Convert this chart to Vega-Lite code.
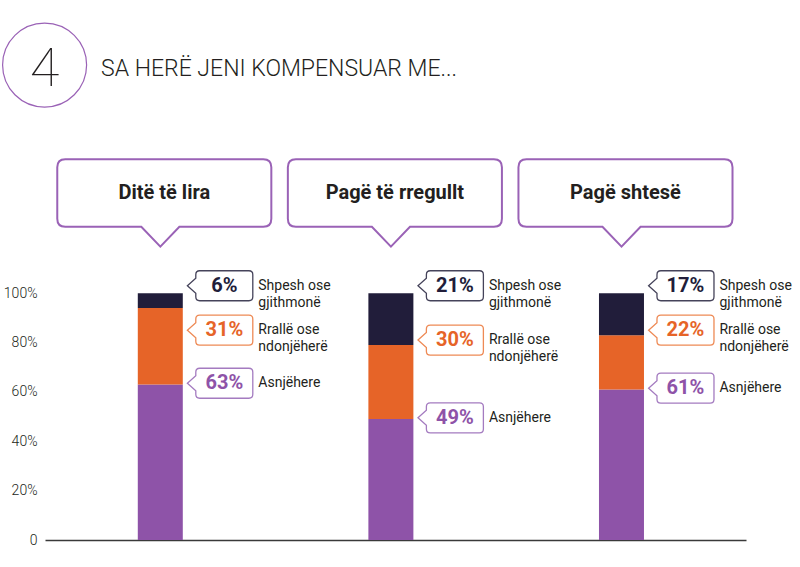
{
  "$schema": "https://vega.github.io/schema/vega-lite/v6.json",
  "width": 701,
  "height": 390,
  "autosize": {"type": "none"},
  "padding": {"left": 45, "top": 150, "right": 54, "bottom": 27},
  "background": "white",
  "config": {"view": {"stroke": null}, "font": "Roboto"},
  "datasets": {
    "resp": [
      {"cat": "Ditë të lira", "series": "Asnjëhere", "label": "Asnjëhere", "pct": 0.63, "order": 1},
      {"cat": "Ditë të lira", "series": "Rrallë ose ndonjëherë", "label": "Rrallë ose\nndonjëherë", "pct": 0.31, "order": 2},
      {"cat": "Ditë të lira", "series": "Shpesh ose gjithmonë", "label": "Shpesh ose\ngjithmonë", "pct": 0.06, "order": 3},
      {"cat": "Pagë të rregullt", "series": "Asnjëhere", "label": "Asnjëhere", "pct": 0.49, "order": 1},
      {"cat": "Pagë të rregullt", "series": "Rrallë ose ndonjëherë", "label": "Rrallë ose\nndonjëherë", "pct": 0.30, "order": 2},
      {"cat": "Pagë të rregullt", "series": "Shpesh ose gjithmonë", "label": "Shpesh ose\ngjithmonë", "pct": 0.21, "order": 3},
      {"cat": "Pagë shtesë", "series": "Asnjëhere", "label": "Asnjëhere", "pct": 0.61, "order": 1},
      {"cat": "Pagë shtesë", "series": "Rrallë ose ndonjëherë", "label": "Rrallë ose\nndonjëherë", "pct": 0.22, "order": 2},
      {"cat": "Pagë shtesë", "series": "Shpesh ose gjithmonë", "label": "Shpesh ose\ngjithmonë", "pct": 0.17, "order": 3}
    ],
    "heads": [
      {"cat": "Ditë të lira"},
      {"cat": "Pagë të rregullt"},
      {"cat": "Pagë shtesë"}
    ]
  },
  "data": {"name": "resp"},
  "transform": [
    {"stack": "pct", "groupby": ["cat"], "sort": [{"field": "order"}], "as": ["y0", "y1"]},
    {"calculate": "datum.series == 'Shpesh ose gjithmonë' ? datum.y1 + 0.03 : datum.series == 'Rrallë ose ndonjëherë' ? min(datum.y1 + 0.02, 0.85) : datum.y1 + 0.005", "as": "labelY"}
  ],
  "encoding": {
    "x": {
      "field": "cat",
      "type": "nominal",
      "scale": {"domain": ["Ditë të lira", "Pagë të rregullt", "Pagë shtesë"], "paddingInner": 0, "paddingOuter": 0.02, "align": 0},
      "axis": {"title": null, "labels": false, "ticks": false, "grid": false, "domainColor": "#3a3a3a", "domainWidth": 1.5}
    }
  },
  "layer": [
    {
      "mark": {"type": "bar", "width": 45},
      "encoding": {
        "y": {
          "field": "y0",
          "type": "quantitative",
          "scale": {"domain": [0, 1.58], "nice": false, "zero": true},
          "axis": {
            "values": [0, 0.2, 0.4, 0.6, 0.8, 1],
            "labelExpr": "datum.value == 0 ? '0' : format(datum.value, '.0%')",
            "title": null, "domain": false, "ticks": false, "grid": false,
            "labelPadding": 8, "labelFontSize": 14, "labelColor": "#231f20", "labelFont": "Roboto", "labelFontWeight": 300
          }
        },
        "y2": {"field": "y1"},
        "color": {
          "field": "series",
          "type": "nominal",
          "scale": {"domain": ["Asnjëhere", "Rrallë ose ndonjëherë", "Shpesh ose gjithmonë"], "range": ["#8E53A8", "#E66428", "#211D3A"]},
          "legend": null
        }
      }
    },
    {
      "mark": {
        "type": "point",
        "shape": "M-0.82,-0.5L0.82,-0.5Q0.95,-0.5 0.95,-0.37L0.95,0.37Q0.95,0.5 0.82,0.5L-0.82,0.5Q-0.95,0.5 -0.95,0.37L-0.95,0.25L-1.23,0L-0.95,-0.25L-0.95,-0.37Q-0.95,-0.5 -0.82,-0.5Z",
        "size": 3600,
        "filled": true,
        "fill": "white",
        "strokeWidth": 1.3,
        "opacity": 1,
        "xOffset": 64
      },
      "encoding": {
        "y": {"field": "labelY", "type": "quantitative"},
        "stroke": {
          "field": "series",
          "type": "nominal",
          "scale": {"domain": ["Asnjëhere", "Rrallë ose ndonjëherë", "Shpesh ose gjithmonë"], "range": ["#A47BC0", "#EE8A55", "#45435A"]},
          "legend": null
        }
      }
    },
    {
      "mark": {"type": "text", "xOffset": 64, "fontSize": 20, "fontWeight": "bold", "align": "center", "baseline": "middle", "font": "Roboto"},
      "encoding": {
        "y": {"field": "labelY", "type": "quantitative"},
        "text": {"field": "pct", "type": "quantitative", "format": ".0%"},
        "color": {"field": "series", "type": "nominal"}
      }
    },
    {
      "mark": {"type": "text", "xOffset": 98, "fontSize": 14, "fontWeight": 400, "align": "left", "baseline": "middle", "lineBreak": "\n", "lineHeight": 17, "color": "#231f20", "font": "Roboto"},
      "encoding": {
        "y": {"field": "labelY", "type": "quantitative"},
        "text": {"field": "label", "type": "nominal"}
      }
    },
    {
      "data": {"name": "heads"},
      "mark": {
        "type": "point",
        "shape": "M-0.9,-0.307L0.9,-0.307Q0.973,-0.307 0.973,-0.234L0.973,0.234Q0.973,0.307 0.9,0.307L0.137,0.307L-0.036,0.488L-0.209,0.307L-0.9,0.307Q-0.973,0.307 -0.973,0.234L-0.973,-0.234Q-0.973,-0.307 -0.9,-0.307Z",
        "size": 48400,
        "filled": true,
        "fill": "white",
        "stroke": "#9A62B6",
        "strokeWidth": 2,
        "opacity": 1,
        "xOffset": 4
      },
      "encoding": {
        "y": {"datum": 1.406, "type": "quantitative"}
      }
    },
    {
      "data": {"name": "heads"},
      "mark": {"type": "text", "xOffset": 4, "fontSize": 20, "fontWeight": "bold", "align": "center", "baseline": "middle", "color": "#231f20", "font": "Roboto"},
      "encoding": {
        "y": {"datum": 1.406, "type": "quantitative"},
        "text": {"field": "cat", "type": "nominal"}
      }
    },
    {
      "data": {"values": [{"num": "4", "heading": "SA HERË JENI KOMPENSUAR ME..."}]},
      "mark": {"type": "point", "shape": "circle", "size": 7056, "filled": false, "stroke": "#9A62B6", "strokeWidth": 1.2, "opacity": 1, "xOffset": -115.7},
      "encoding": {
        "x": {"datum": "Ditë të lira", "type": "nominal"},
        "y": {"datum": 1.924, "type": "quantitative"}
      }
    },
    {
      "data": {"values": [{"num": "4", "heading": "SA HERË JENI KOMPENSUAR ME..."}]},
      "mark": {"type": "text", "xOffset": -115.7, "fontSize": 54, "fontWeight": 100, "align": "center", "baseline": "alphabetic", "color": "#231f20", "font": "Roboto"},
      "encoding": {
        "x": {"datum": "Ditë të lira", "type": "nominal"},
        "y": {"datum": 1.839, "type": "quantitative"},
        "text": {"field": "num", "type": "nominal"}
      }
    },
    {
      "data": {"values": [{"num": "4", "heading": "SA HERË JENI KOMPENSUAR ME..."}]},
      "mark": {"type": "text", "xOffset": -59.2, "fontSize": 23, "fontWeight": 300, "align": "left", "baseline": "alphabetic", "color": "#231f20", "font": "Roboto"},
      "encoding": {
        "x": {"datum": "Ditë të lira", "type": "nominal"},
        "y": {"datum": 1.88, "type": "quantitative"},
        "text": {"field": "heading", "type": "nominal"}
      }
    }
  ]
}
